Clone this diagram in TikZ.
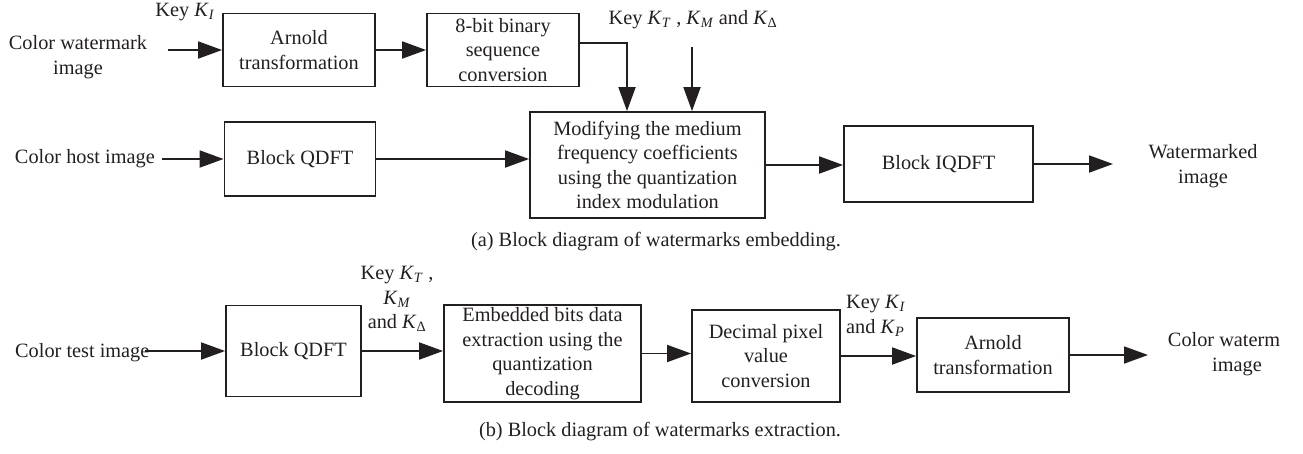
\documentclass[tikz,border=0pt]{standalone}
\usepackage{fontspec}
\setmainfont{Liberation Serif}
\usetikzlibrary{arrows.meta}
\definecolor{ink}{RGB}{35,31,32}
\newcommand{\Kk}[1]{\textit{K}\textsubscript{\textit{#1}}}
\newcommand{\Kd}{\textit{K}\textsubscript{Δ}}
\newcommand{\fsz}{\fontsize{20.3}{24.5}\selectfont}
\tikzset{
  blk/.style={draw=ink, line width=1.8pt, inner sep=0pt, align=center, text=ink, font=\fsz},
  lbl/.style={inner sep=0pt, align=center, text=ink, font=\fsz},
  arr/.style={draw=ink, line width=1.8pt, -{Triangle[length=24pt,width=17pt]}}
}
\begin{document}
\begin{tikzpicture}[x=1pt,y=-1pt]
\useasboundingbox (0,0) rectangle (1303,453);
% ---------- (a) embedding ----------
\node[blk, minimum width=152pt, minimum height=73pt] (arn1) at (299,50) {Arnold\\transformation};
\node[blk, minimum width=152pt, minimum height=73pt] (bin) at (503,50) {8-bit binary\\sequence\\conversion};
\node[blk, minimum width=235pt, minimum height=106pt] (mod) at (647.5,165) {Modifying the medium\\frequency coefficients\\using the quantization\\index modulation};
\node[blk, minimum width=151pt, minimum height=74pt] (qdft1) at (300,159) {Block QDFT};
\node[blk, minimum width=189pt, minimum height=76pt] (iqdft) at (938.5,164) {Block IQDFT};

\node[lbl] (wmin) at (78,57) {Color watermark\\image};
\node[lbl] (keyI) at (185,12) {Key \Kk{I}};
\node[lbl] (keyT) at (693,20) {Key \Kk{T} , \Kk{M} and \Kd};
\node[lbl, anchor=east] (host) at (155,159) {Color host image};
\node[lbl] (wmk) at (1203,166) {Watermarked\\image};
\node[lbl] (capa) at (656,242) {(a) Block diagram of watermarks embedding.};

\coordinate (a0) at (168,50);
\coordinate (kt0) at (692,47);
\coordinate (out1) at (1113,164);

\draw[arr] (a0) -- (arn1.west);
\draw[arr] (arn1.east) -- (bin.west);
\draw[arr] ([yshift=7pt]bin.east) -| ([xshift=-20.5pt]mod.north);
\draw[arr] (kt0) -- ([xshift=44.5pt]mod.north);
\draw[arr] ([xshift=7pt]host.east) -- (qdft1.west);
\draw[arr] (qdft1.east) -- (qdft1.east -| mod.west);
\draw[arr] (mod.east) -- (mod.east -| iqdft.west);
\draw[arr] (iqdft.east) -- (iqdft.east -| out1);

% ---------- (b) extraction ----------
\node[blk, minimum width=135pt, minimum height=91pt] (qdft2) at (293.5,351) {Block QDFT};
\node[blk, minimum width=197pt, minimum height=97pt] (emb) at (542.5,353.5) {Embedded bits data\\extraction using the\\quantization\\decoding};
\node[blk, minimum width=148pt, minimum height=92pt] (dec) at (766,356) {Decimal pixel\\value\\conversion};
\node[blk, minimum width=152pt, minimum height=74pt] (arn2) at (993,355) {Arnold\\transformation};

\node[lbl, anchor=west] (test) at (15,353) {Color test image};
\node[lbl] (keyb) at (397,299) {Key \Kk{T} ,\\\Kk{M}\\and \Kd};
\node[lbl, align=left, anchor=west] (keyP) at (846,316) {Key \Kk{I}\\and \Kk{P}};
\node[lbl] (wout) at (1237,354) {\rlap{Color waterm}\phantom{Color watermark}\\image};
\node[lbl] (capb) at (660,432) {(b) Block diagram of watermarks extraction.};

\coordinate (t0) at (145,351);
\coordinate (out2) at (1148,355);

\draw[arr] (t0) -- (qdft2.west);
\draw[arr] (qdft2.east) -- (qdft2.east -| emb.west);
\draw[arr] (emb.east) -- (emb.east -| dec.west);
\draw[arr] (dec.east) -- (dec.east -| arn2.west);
\draw[arr] (arn2.east) -- (arn2.east -| out2);
\end{tikzpicture}
\end{document}
